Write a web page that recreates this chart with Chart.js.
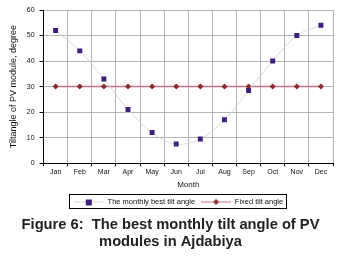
<!DOCTYPE html>
<html>
<head>
<meta charset="utf-8">
<script src="https://cdn.jsdelivr.net/npm/chart.js@4.4.1/dist/chart.umd.min.js"></script>
<style>
  html, body { margin: 0; padding: 0; background: #fff; }
  #wrap { width: 345px; height: 258px; position: relative; }
</style>
</head>
<body>
<div id="wrap"><canvas id="chartTilt"></canvas></div>
<script>
  // data
  var months = ["Jan", "Feb", "Mar", "Apr", "May", "Jun", "Jul", "Aug", "Sep", "Oct", "Nov", "Dec"];
  var bestTilt = [52, 44, 33, 21, 12, 7.5, 9.5, 17, 28.5, 40, 50, 54];
  var fixedTilt = [30, 30, 30, 30, 30, 30, 30, 30, 30, 30, 30, 30];
  var yTicks = [0, 10, 20, 30, 40, 50, 60];

  Chart.defaults.font.family = 'Arial, "Liberation Sans", sans-serif';
  Chart.defaults.color = '#111';

  var LEGEND_SHIFT = 8;
  var LEGEND_PAD = 6;

  // little line+marker images for the legend
  function legendIcon(lineColor, markColor, shape) {
    var c = document.createElement('canvas');
    c.width = 30; c.height = 9;
    var g = c.getContext('2d');
    g.strokeStyle = lineColor; g.lineWidth = 1;
    g.beginPath(); g.moveTo(0, 4.5); g.lineTo(30, 4.5); g.stroke();
    g.fillStyle = markColor;
    if (shape === 'rect') {
      g.fillRect(12, 2, 6, 6);
    } else {
      g.beginPath(); g.moveTo(15, 1.5); g.lineTo(18, 4.5); g.lineTo(15, 7.5); g.lineTo(12, 4.5); g.closePath(); g.fill();
    }
    return c;
  }

  // legend sits a bit right of centre in the original, and has a frame
  var legendBox = {
    id: 'legendBox',
    afterLayout: function (chart) {
      var lg = chart.legend;
      if (!lg) return;
      lg.left += LEGEND_SHIFT;
      lg.right += LEGEND_SHIFT;
    },
    afterDraw: function (chart) {
      var lg = chart.legend;
      if (!lg || !lg.lineWidths) return;
      var lw = lg.lineWidths[0];
      var x0 = (lg.left + LEGEND_PAD + lg.right - lw) / 2;
      var x1 = x0 + lw - LEGEND_PAD;
      var y0 = lg.top + LEGEND_PAD;
      var ctx = chart.ctx;
      ctx.save();
      ctx.strokeStyle = '#000'; ctx.lineWidth = 1;
      ctx.strokeRect(Math.round(x0) - 4.5, Math.round(y0) - 3.5, Math.round(x1 - x0) + 8, 14);
      ctx.restore();
    }
  };

  new Chart('chartTilt', {
    type: 'line',
    data: {
      labels: months,
      datasets: [
        {
          label: "The monthly best tilt angle",
          data: bestTilt,
          borderColor: "#d9d9d9",
          borderWidth: 1,
          tension: 0.35,
          pointStyle: 'rect',
          pointRadius: 3.5,
          pointBackgroundColor: "#3d1e7c",
          pointBorderColor: "#3d1e7c",
          pointBorderWidth: 0,
        },
        {
          label: "Fixed tilt angle",
          data: fixedTilt,
          borderColor: "#c9708a",
          borderWidth: 1.5,
          pointStyle: 'rectRot',
          pointRadius: 3,
          pointBackgroundColor: "#8c2b2b",
          pointBorderColor: "#8c2b2b",
          pointBorderWidth: 0,
        },
      ]
    },
    options: {
      responsive: true,
      maintainAspectRatio: false,
      animation: false,
      layout: { padding: { left: 8, right: 12, top: 10, bottom: 7 } },
      scales: {
        y: {
          min: 0,
          max: 60,
          afterBuildTicks: function (axis) { axis.ticks = yTicks.map(function (v) { return { value: v }; }); },
          grid: { color: '#b3b3b3', lineWidth: 1, tickLength: 4, tickColor: '#000' },
          border: { color: '#000', width: 1 },
          ticks: { font: { size: 7 }, padding: 5, color: '#111' },
          title: { display: true, text: 'Tiltangle of PV module, degree', font: { size: 9 }, padding: { top: 0, bottom: 3 } }
        },
        x: {
          offset: true,
          grid: { offset: true, color: '#b3b3b3', lineWidth: 1, tickLength: 3, tickColor: '#000' },
          border: { color: '#000', width: 1 },
          ticks: { font: { size: 7 }, padding: 2, maxRotation: 0, autoSkip: false, color: '#111' },
          title: { display: true, text: 'Month', font: { size: 8 }, padding: { top: 1, bottom: 3 } }
        }
      },
      plugins: {
        legend: {
          position: 'bottom',
          labels: {
            usePointStyle: true,
            pointStyleWidth: 30,
            font: { size: 7.5 },
            padding: LEGEND_PAD,
            generateLabels: function (chart) {
              return chart.data.datasets.map(function (ds, i) {
                return {
                  text: ds.label,
                  pointStyle: legendIcon(ds.borderColor, ds.pointBackgroundColor, ds.pointStyle === 'rect' ? 'rect' : 'diamond'),
                  datasetIndex: i,
                  fontColor: '#111',
                  lineWidth: 0,
                  strokeStyle: 'transparent'
                };
              });
            }
          }
        },
        title: {
          display: true,
          position: 'bottom',
          text: ["Figure 6:  The best monthly tilt angle of PV", "modules in Ajdabiya"],
          font: { size: 14.7, weight: 'bold' },
          color: '#222',
          padding: { top: 0, bottom: 0 },
          lineHeight: 1.28
        },
        tooltip: { enabled: false }
      }
    },
    plugins: [legendBox]
  });
</script>
</body>
</html>
